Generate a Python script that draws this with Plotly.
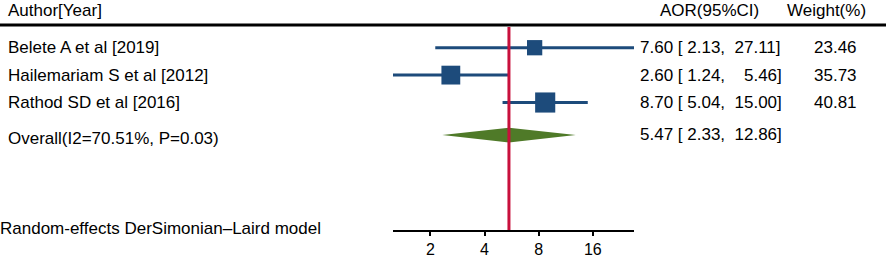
import math
import plotly.graph_objects as go

# ---- data ----
studies = ["Belete A et al [2019]", "Hailemariam S et al [2012]", "Rathod SD et al [2016]"]
aor = [7.60, 2.60, 8.70]
lower = [2.13, 1.24, 5.04]
upper = [27.11, 5.46, 15.00]
weights = [23.46, 35.73, 40.81]
overall_label = "Overall(I2=70.51%, P=0.03)"
overall_aor = 5.47
overall_lower = 2.33
overall_upper = 12.86
tick_vals = [2, 4, 8, 16]
tick_text = ["2", "4", "8", "16"]
model_note = "Random-effects DerSimonian\u2013Laird model"

# ---- styling / layout ----
W, H = 886, 259
FONT = "Liberation Sans, Arial, sans-serif"
BLUE = "#1d4b7b"
GREEN = "#4f7a28"
RED = "#c8103c"

study_rows = [1, 2, 3]
overall_row = 4.19
overall_label_row = 4.30
overall_text_row = 4.17
header_row = -0.34
header_line_row = 0.17
axis_row = 7.69
note_row = 7.58
diamond_half = 0.27
y_range = [8.711, -0.741]

def fmt_ci(e, l, u):
    def pad(v, width):
        s = f"{v:.2f}"
        return "\u00a0" * (2 * (width - len(s))) + s
    return f"{e:.2f} [{chr(160)}{pad(l,4)},{chr(160)}{chr(160)}{pad(u,5)}]"

fig = go.Figure()

for r, l, u in zip(study_rows, lower, upper):
    fig.add_trace(go.Scatter(x=[l, u], y=[r, r], mode="lines",
                             line=dict(color=BLUE, width=3), hoverinfo="skip",
                             showlegend=False))
fig.add_trace(go.Scatter(x=aor, y=study_rows, mode="markers",
                         marker=dict(symbol="square", color=BLUE, opacity=1,
                                     size=[3.15 * math.sqrt(w) for w in weights],
                                     line=dict(width=0)),
                         showlegend=False, hoverinfo="skip"))
fig.add_trace(go.Scatter(
    x=[overall_lower, overall_aor, overall_upper, overall_aor, overall_lower],
    y=[overall_row, overall_row - diamond_half, overall_row, overall_row + diamond_half, overall_row],
    mode="lines", fill="toself", fillcolor=GREEN, line=dict(width=0, color=GREEN),
    showlegend=False, hoverinfo="skip"))
fig.add_trace(go.Scatter(x=[overall_aor, overall_aor], y=[0.245, axis_row], mode="lines",
                         line=dict(color=RED, width=3), showlegend=False, hoverinfo="skip"))

ann = []
def txt(x, y, s, anchor="left", size=17):
    ann.append(dict(x=x / W, xref="paper", y=y, yref="y", text=s, showarrow=False,
                    xanchor=anchor, yanchor="middle",
                    font=dict(family=FONT, size=size, color="black")))

txt(6, header_row, "Author[Year]")
txt(709.5, header_row, "AOR(95%CI)", "center")
txt(826, header_row, "Weight(%)", "center")
for r, s, e, l, u, w in zip(study_rows, studies, aor, lower, upper, weights):
    txt(6, r, s)
    txt(638, r, fmt_ci(e, l, u))
    txt(835, r, f"{w:.2f}", "center")
txt(6, overall_label_row, overall_label)
txt(638, overall_text_row, fmt_ci(overall_aor, overall_lower, overall_upper))
txt(-2, note_row, model_note)

fig.update_layout(
    width=W, height=H, margin=dict(l=0, r=0, t=0, b=0, pad=0),
    paper_bgcolor="white", plot_bgcolor="white",
    annotations=ann,
    shapes=[dict(type="line", xref="paper", yref="y", x0=0, x1=1,
                 y0=header_line_row, y1=header_line_row,
                 line=dict(color="black", width=3))],
    xaxis=dict(type="log", range=[math.log10(1.24), math.log10(27.11)],
               domain=[393 / W, 634 / W], anchor="free", position=1 - 231 / H,
               showline=True, linecolor="black", linewidth=2,
               ticks="outside", ticklen=4, tickwidth=2, tickcolor="black",
               tickvals=tick_vals, ticktext=tick_text,
               tickfont=dict(family=FONT, size=16, color="black"),
               showgrid=False, zeroline=False, fixedrange=True),
    yaxis=dict(range=y_range, domain=[0, 1], visible=False, showgrid=False,
               zeroline=False, fixedrange=True),
)

fig.write_html("out.html", config={"displayModeBar": False},
               post_script="document.body.style.margin='0';document.body.style.overflow='hidden';")
